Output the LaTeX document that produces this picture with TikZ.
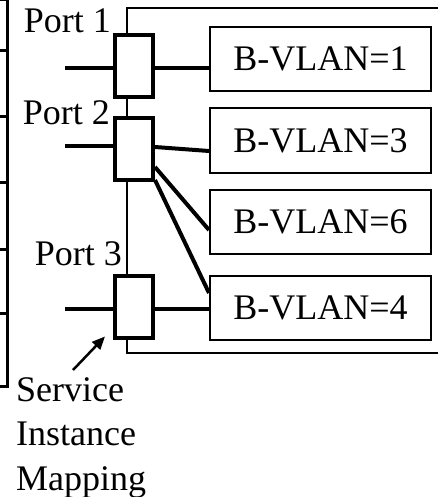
\documentclass[tikz,border=0pt]{standalone}
\usepackage{fontspec}
\setmainfont{Liberation Serif}
\usetikzlibrary{calc,arrows.meta}
\begin{document}
\begin{tikzpicture}[x=1pt,y=-1pt,
  portbox/.style={draw,line width=4pt,fill=white,minimum width=38pt,minimum height=62pt,inner sep=0pt},
  vlanbox/.style={draw,line width=2pt,fill=white,minimum width=221pt,minimum height=64pt,inner sep=0pt,font=\fontsize{36}{40}\selectfont},
  lbl/.style={inner sep=0pt,font=\fontsize{36}{40}\selectfont},
  link/.style={line width=4pt},
  frame/.style={line width=2pt}]
\useasboundingbox (0,0) rectangle (438,497);
\clip (0,0) rectangle (438,497);
% left column fragment
\draw[line width=3pt] (-3,0) -- (7,0) -- (7,386) -- (-3,386);
\foreach \yy in {51,117,182,249,313} \draw[line width=3pt] (-3,\yy) -- (7,\yy);
% big frame
\draw[frame] (445,8) -- (127,8) -- (127,353) -- (445,353);
% port boxes
\node[portbox] (p1) at (134,66) {};
\node[portbox] (p2) at (134,149) {};
\node[portbox] (p3) at (134,306.5) {};
% vlan boxes
\node[vlanbox] (b1) at (320.5,59) {B-VLAN=1};
\node[vlanbox] (b2) at (320.5,140.5) {B-VLAN=3};
\node[vlanbox] (b3) at (320.5,222) {B-VLAN=6};
\node[vlanbox] (b4) at (320.5,308) {B-VLAN=4};
% inputs
\coordinate (i1) at (65,68);
\coordinate (i2) at (65,146);
\coordinate (i3) at (65,309);
\draw[link] (i1) -- (i1 -| p1.west);
\draw[link] (i2) -- (i2 -| p2.west);
\draw[link] (i3) -- (i3 -| p3.west);
% links
\draw[link] (i1 -| p1.east) -- (i1 -| b1.west);
\draw[link] ($(p2.east)+(0,-2)$) -- ($(b2.west)+(0,10.5)$);
\draw[link] ($(p2.east)+(0,18)$) -- ($(b3.west)+(0,8)$);
\draw[link] ($(p2.east)+(0,31)$) -- ($(b4.west)+(0,-15)$);
\draw[link] (i3 -| p3.east) -- (i3 -| b4.west);
% labels
\node[lbl,anchor=base east] (l1) at (111,33) {Port 1};
\node[lbl,anchor=base east] (l2) at (110,125) {Port 2};
\node[lbl,anchor=base east] (l3) at (122,265) {Port 3};
\node[lbl,anchor=base west] (s1) at (16,401) {Service};
\node[lbl,anchor=base west] (s2) at (16,445) {Instance};
\node[lbl,anchor=base west] (s3) at (16,490) {Mapping};
\coordinate (a0) at (73,370);
\draw[line width=2.5pt,-{Triangle[length=13pt,width=11pt]}] (a0) -- ($(p3.south west)+(-8,-3)$);
\end{tikzpicture}
\end{document}
